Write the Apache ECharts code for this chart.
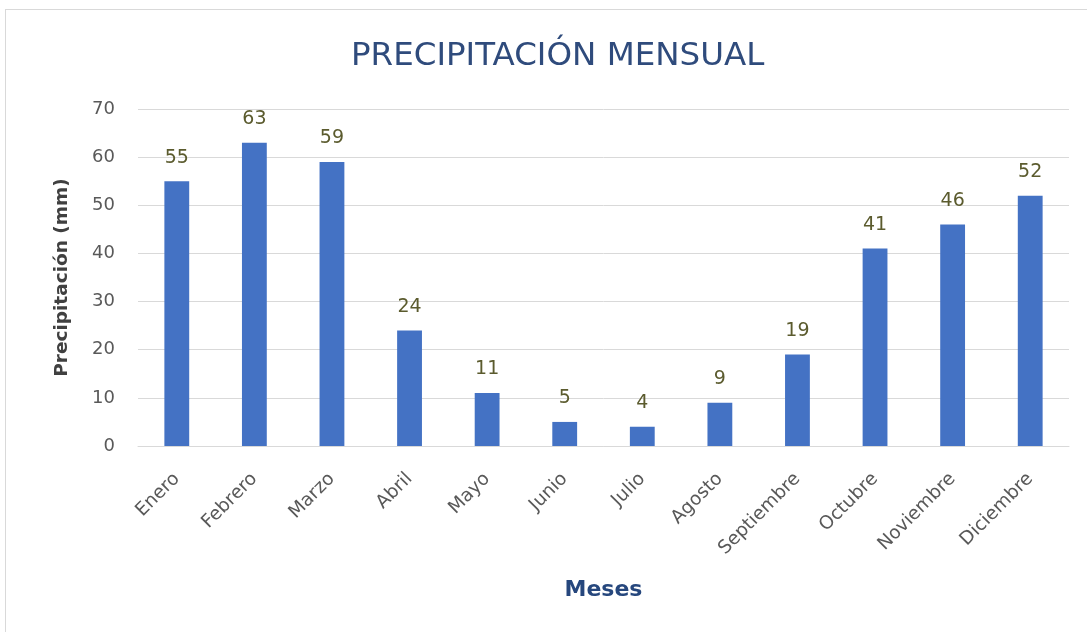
<!DOCTYPE html>
<html>
<head>
<meta charset="utf-8">
<script src="https://cdn.jsdelivr.net/npm/echarts@6/dist/echarts.min.js"></script>
<style>
html,body{margin:0;padding:0;background:#fff;overflow:hidden;}
#frame{position:absolute;left:5px;top:9px;width:1090px;height:640px;border:1px solid #d9d9d9;box-sizing:border-box;}
#chart{width:1087px;height:632px;position:absolute;left:0;top:0;}
</style>
</head>
<body>
<div id="frame"></div>
<div id="chart"></div>
<script>
const titleText = 'PRECIPITACIÓN MENSUAL';
const categories = ['Enero','Febrero','Marzo','Abril','Mayo','Junio','Julio','Agosto','Septiembre','Octubre','Noviembre','Diciembre'];
const precipitation = [55,63,59,24,11,5,4,9,19,41,46,52];
const yAxisTitle = 'Precipitación (mm)';
const xAxisTitle = 'Meses';
const yTicks = {min:0, max:70, interval:10};

const font = '"DejaVu Sans", "Open Sans", sans-serif';
const chart = echarts.init(document.getElementById('chart'), null, {renderer:'canvas'});
chart.setOption({
  backgroundColor: 'transparent',
  animation: false,
  title: {
    text: titleText,
    left: 346,
    top: 35,
    textStyle: {fontFamily: font, fontSize: 32.5, fontWeight: 'normal', color: '#2F4B7C'}
  },
  grid: {left: 138, right: 18, top: 109, bottom: 186},
  xAxis: {
    type: 'category',
    data: categories,
    name: xAxisTitle,
    nameLocation: 'middle',
    nameGap: 133,
    nameTextStyle: {fontFamily: font, fontSize: 22, fontWeight: 'bold', color: '#26477D'},
    axisLine: {lineStyle: {color: '#d9d9d9', width: 1}},
    axisTick: {show: false},
    axisLabel: {rotate: 45, fontFamily: font, fontSize: 18.5, color: '#595959', margin: 30, interval: 0}
  },
  yAxis: {
    type: 'value',
    min: yTicks.min, max: yTicks.max, interval: yTicks.interval,
    name: yAxisTitle,
    nameLocation: 'middle',
    nameGap: 66,
    nameTextStyle: {fontFamily: font, fontSize: 18.5, fontWeight: 'bold', color: '#404040'},
    axisLine: {show: false},
    axisTick: {show: false},
    axisLabel: {fontFamily: font, fontSize: 18, color: '#595959', margin: 23},
    splitLine: {lineStyle: {color: '#d9d9d9', width: 1}}
  },
  series: [{
    type: 'bar',
    data: precipitation,
    barWidth: '32%',
    itemStyle: {color: '#4472C4'},
    label: {show: true, position: 'top', distance: 14, fontFamily: font, fontSize: 19, color: '#5b5b2e'}
  }]
});
</script>
</body>
</html>
